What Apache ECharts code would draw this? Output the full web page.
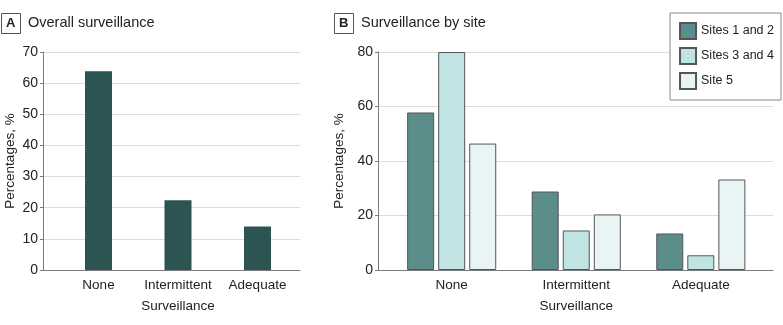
<!DOCTYPE html>
<html>
<head>
<meta charset="utf-8">
<script src="https://cdn.jsdelivr.net/npm/echarts@6/dist/echarts.min.js"></script>
<style>
html,body{margin:0;padding:0;background:#fff;}
#chart{width:783px;height:325px;}
</style>
</head>
<body>
<div id="chart"></div>
<script>
// ---- data ----
const categories = ['None', 'Intermittent', 'Adequate'];
const overallValues = [63.8, 22.4, 14.0];
const siteNames = ['Sites 1 and 2', 'Sites 3 and 4', 'Site 5'];
const sites12 = [57.8, 28.8, 13.4];
const sites34 = [80.0, 14.5, 5.4];
const site5 = [46.4, 20.4, 33.2];
const panelATitle = 'Overall surveillance';
const panelBTitle = 'Surveillance by site';
const yTicksA = { min: 0, max: 70, interval: 10 };
const yTicksB = { min: 0, max: 80, interval: 20 };
const xName = 'Surveillance';
const yName = 'Percentages, %';

const FONT = '"Liberation Sans", Arial, sans-serif';
const TXT = '#222';
const AXIS = '#7a7a7a';
const GRIDC = '#dcdcdc';

const chart = echarts.init(document.getElementById('chart'), null, {renderer: 'canvas'});

function bgX(gi) {
  return {type: 'value', gridIndex: gi, min: 0, max: 1,
    axisLine: {show: true, onZero: false, lineStyle: {color: AXIS, width: 1}},
    axisTick: {show: false}, axisLabel: {show: false}, splitLine: {show: false}};
}
function catX(gi) {
  return {type: 'category', gridIndex: gi, data: categories,
    axisLine: {show: false}, axisTick: {show: false},
    axisLabel: {color: TXT, fontSize: 13.5, fontFamily: FONT, margin: 8, interval: 0},
    name: xName, nameLocation: 'middle', nameGap: 29,
    nameTextStyle: {color: TXT, fontSize: 13.5, fontFamily: FONT}};
}
function bgY(gi, t) {
  return {type: 'value', gridIndex: gi, min: t.min, max: t.max, interval: t.interval,
    axisLine: {show: true, lineStyle: {color: AXIS, width: 1}},
    axisTick: {show: true, length: 3, lineStyle: {color: AXIS}},
    axisLabel: {color: TXT, fontSize: 14, fontFamily: FONT, margin: 5},
    splitLine: {show: true, lineStyle: {color: GRIDC, width: 1}},
    name: yName, nameLocation: 'middle', nameGap: 26,
    nameTextStyle: {color: TXT, fontSize: 13.5, fontFamily: FONT}};
}
function hidY(gi, t) {
  return {type: 'value', gridIndex: gi, min: t.min, max: t.max, interval: t.interval, show: false,
    splitLine: {show: false}};
}

function boxLabel(x, letter, title) {
  return [
    {type: 'rect', left: x, top: 13, shape: {width: 19, height: 20},
      style: {fill: '#fff', stroke: '#555', lineWidth: 1}},
    {type: 'text', left: x + 5, top: 17, style: {text: letter, fontFamily: FONT, fontWeight: 'bold', fontSize: 13, fill: TXT}},
    {type: 'text', left: x + 27, top: 15, style: {text: title, fontFamily: FONT, fontSize: 14.5, fill: TXT}}
  ];
}

const borderStyle = {borderColor: '#555', borderWidth: 1};

chart.setOption({
  animation: false,
  backgroundColor: '#fff',
  textStyle: {fontFamily: FONT},
  grid: [
    {left: 43, top: 52, width: 257, height: 218},
    {left: 58.75, top: 52, width: 238.5, height: 218},
    {left: 378, top: 52, width: 395, height: 218},
    {left: 389.4, top: 52, width: 373.7, height: 218}
  ],
  xAxis: [bgX(0), catX(1), bgX(2), catX(3)],
  yAxis: [bgY(0, yTicksA), hidY(1, yTicksA), bgY(2, yTicksB), hidY(3, yTicksB)],
  legend: {
    data: siteNames, orient: 'vertical', right: 2, top: 13,
    itemWidth: 16, itemHeight: 16, itemGap: 7, icon: 'rect',
    padding: [9, 7, 10, 9], backgroundColor: '#fff', borderColor: '#888', borderWidth: 1,
    textStyle: {color: TXT, fontSize: 12.5, fontFamily: FONT, lineHeight: 16},
    z: 10
  },
  graphic: boxLabel(1, 'A', panelATitle).concat(boxLabel(334, 'B', panelBTitle)),
  series: [
    {type: 'bar', name: 'Overall', xAxisIndex: 1, yAxisIndex: 1, data: overallValues,
      barWidth: 27, itemStyle: {color: '#2c5453'}},
    {type: 'bar', name: siteNames[0], xAxisIndex: 3, yAxisIndex: 3, data: sites12,
      barWidth: 27, barGap: '15%', itemStyle: Object.assign({color: '#5b8d8b'}, borderStyle)},
    {type: 'bar', name: siteNames[1], xAxisIndex: 3, yAxisIndex: 3, data: sites34,
      barWidth: 27, barGap: '15%', itemStyle: Object.assign({color: '#c0e4e4'}, borderStyle)},
    {type: 'bar', name: siteNames[2], xAxisIndex: 3, yAxisIndex: 3, data: site5,
      barWidth: 27, barGap: '15%', itemStyle: Object.assign({color: '#e9f4f5'}, borderStyle)}
  ]
});
</script>
</body>
</html>
